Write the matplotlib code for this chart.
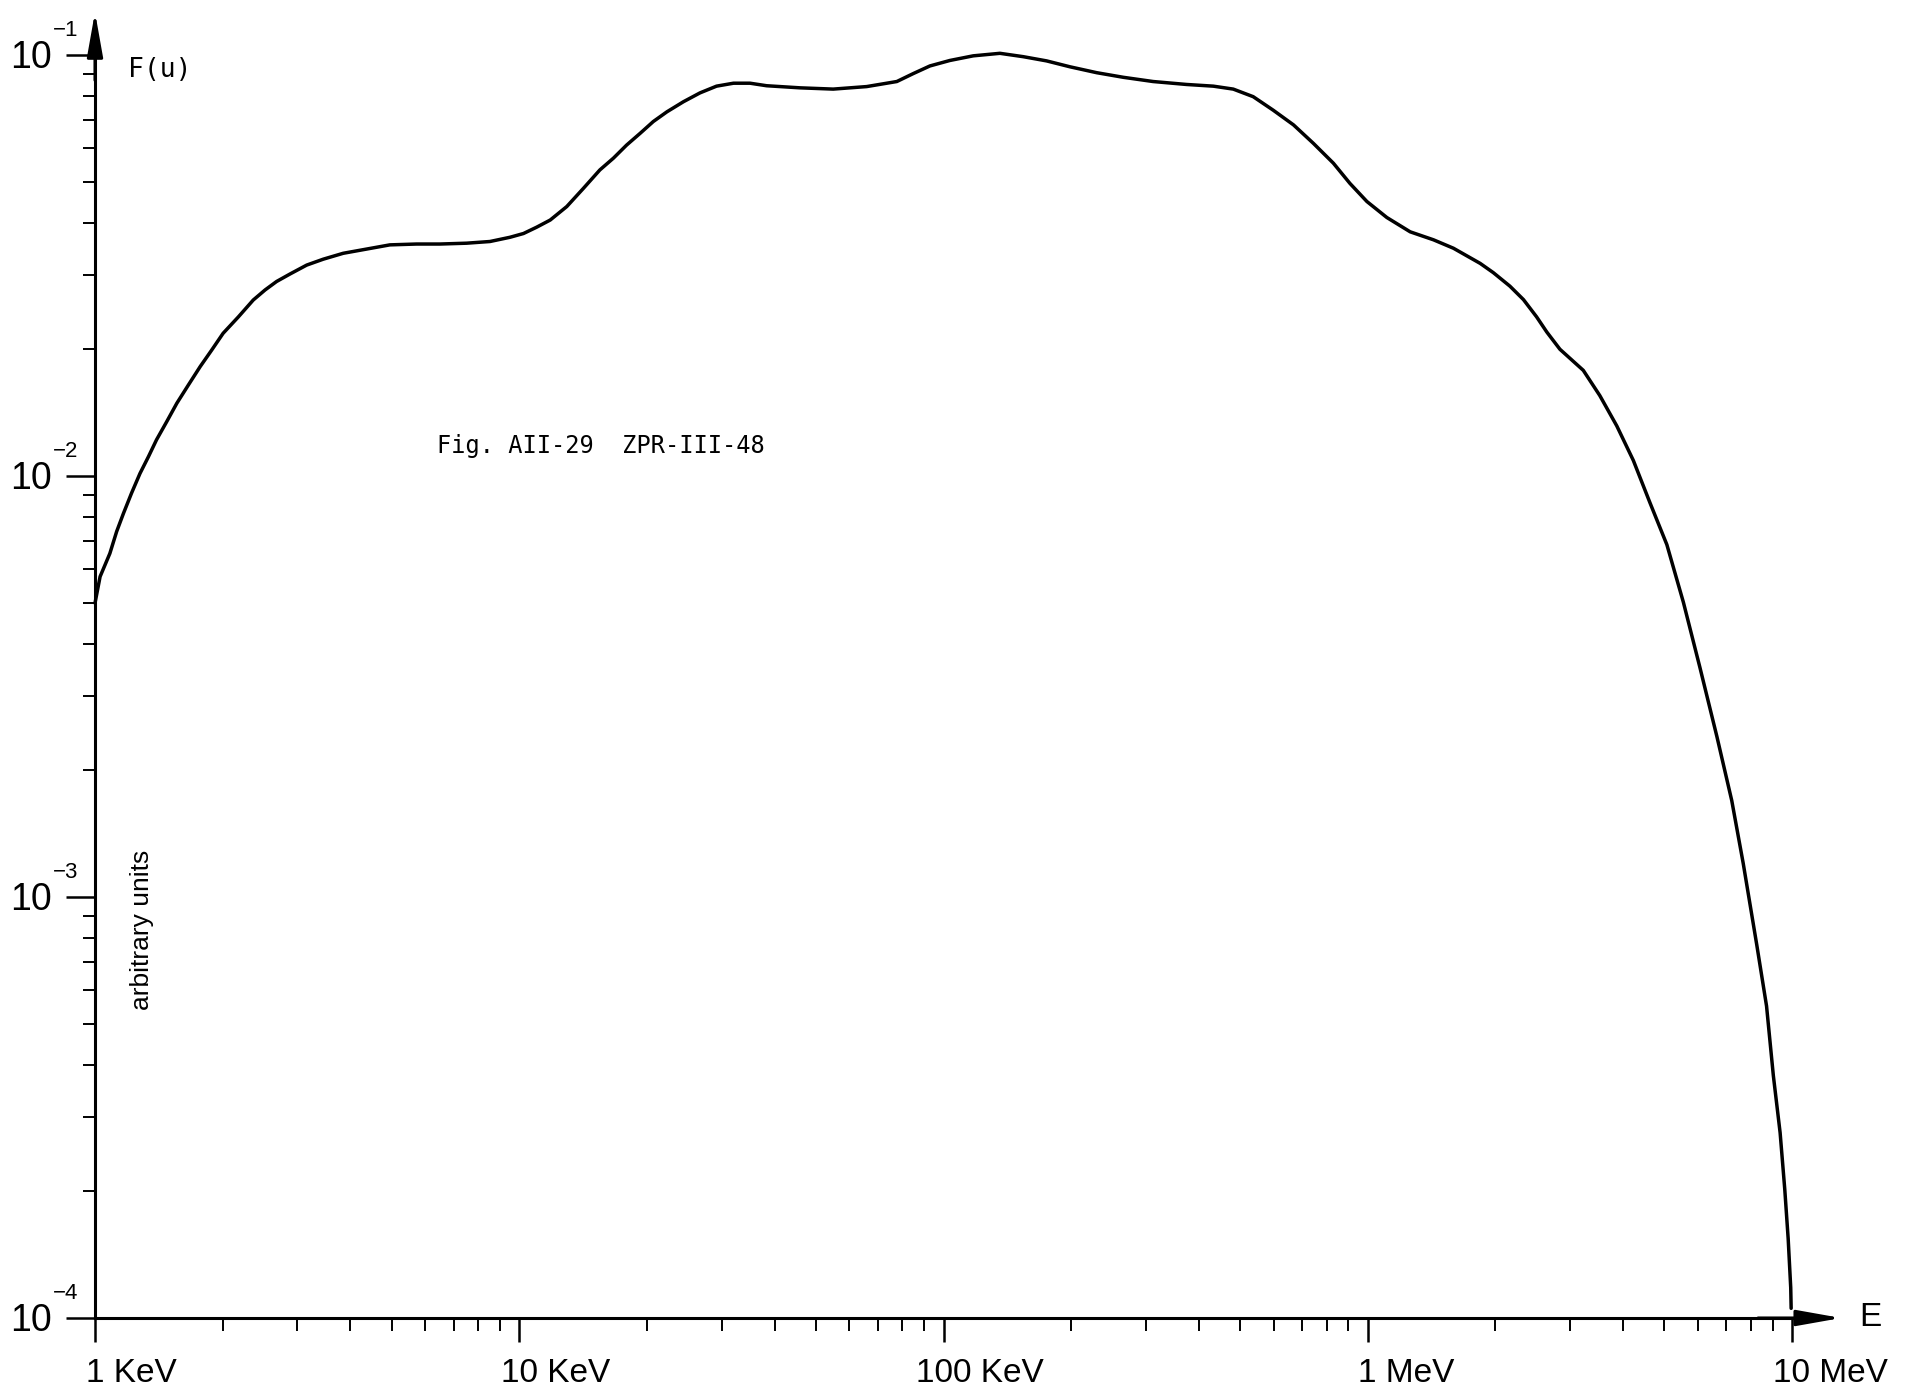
import numpy as np
import matplotlib
matplotlib.use('Agg')
import matplotlib.pyplot as plt
import matplotlib.transforms as mtransforms
from matplotlib.ticker import LogLocator, NullFormatter

# spectrum: log10(E / keV) and log10 F(u)
log_e = [0.000, 0.012, 0.035, 0.051, 0.067, 0.086, 0.106, 0.126, 0.145, 0.169,
         0.193, 0.220, 0.248, 0.275, 0.302, 0.338, 0.373, 0.401, 0.428, 0.460,
         0.499, 0.538, 0.585, 0.640, 0.695, 0.758, 0.813, 0.876, 0.931, 0.978,
         1.010, 1.041, 1.073, 1.112, 1.151, 1.190, 1.222, 1.253, 1.285, 1.316,
         1.348, 1.387, 1.426, 1.465, 1.505, 1.544, 1.583, 1.662, 1.740, 1.819,
         1.890, 1.929, 1.968, 2.015, 2.070, 2.133, 2.188, 2.243, 2.298, 2.361,
         2.424, 2.494, 2.573, 2.636, 2.683, 2.730, 2.777, 2.825, 2.872, 2.919,
         2.958, 2.998, 3.045, 3.100, 3.155, 3.202, 3.265, 3.296, 3.335, 3.367,
         3.398, 3.422, 3.453, 3.508, 3.547, 3.587, 3.626, 3.665, 3.705, 3.744,
         3.783, 3.823, 3.858, 3.885, 3.917, 3.940, 3.956, 3.972, 3.983, 3.991,
         3.997, 3.998]
log_f = [-2.302, -2.239, -2.184, -2.132, -2.089, -2.041, -1.994, -1.954, -1.914, -1.871,
         -1.827, -1.784, -1.740, -1.701, -1.661, -1.622, -1.582, -1.558, -1.538, -1.520,
         -1.499, -1.485, -1.471, -1.461, -1.451, -1.449, -1.449, -1.447, -1.443, -1.433,
         -1.424, -1.409, -1.392, -1.360, -1.317, -1.273, -1.245, -1.214, -1.186, -1.158,
         -1.135, -1.111, -1.090, -1.074, -1.067, -1.067, -1.073, -1.078, -1.081, -1.075,
         -1.063, -1.044, -1.026, -1.013, -1.002, -0.996, -1.004, -1.014, -1.028, -1.042,
         -1.053, -1.063, -1.070, -1.074, -1.081, -1.099, -1.131, -1.166, -1.210, -1.257,
         -1.305, -1.348, -1.386, -1.420, -1.439, -1.459, -1.495, -1.517, -1.549, -1.581,
         -1.622, -1.658, -1.699, -1.749, -1.809, -1.881, -1.963, -2.063, -2.163, -2.300,
         -2.455, -2.619, -2.771, -2.920, -3.114, -3.259, -3.424, -3.560, -3.695, -3.812,
         -3.928, -3.977]

x_ticks = [1, 10, 100, 1000, 10000]
x_labels = ['1 KeV', '10 KeV', '100 KeV', '1 MeV', '10 MeV']
y_ticks = [1e-4, 1e-3, 1e-2, 1e-1]
y_exponents = ['\u22124', '\u22123', '\u22122', '\u22121']

energy_kev = 10 ** np.array(log_e)
flux = 10 ** np.array(log_f)

W, H = 1905, 1395
fig = plt.figure(figsize=(W / 100, H / 100), dpi=100)
ax = fig.add_axes([95 / W, 77 / H, 1697 / W, 1263 / H])
ax.set_xscale('log')
ax.set_yscale('log')
ax.set_xlim(1, 1e4)
ax.set_ylim(1e-4, 1e-1)

ax.plot(energy_kev, flux, color='k', lw=2.5, solid_joinstyle='round',
        solid_capstyle='round', clip_on=False)

for s in ['top', 'right']:
    ax.spines[s].set_visible(False)
for s in ['left', 'bottom']:
    ax.spines[s].set_linewidth(2.2)

ax.set_xticks(x_ticks)
ax.set_yticks(y_ticks)
ax.xaxis.set_minor_locator(LogLocator(base=10, subs=range(2, 10), numticks=50))
ax.yaxis.set_minor_locator(LogLocator(base=10, subs=range(2, 10), numticks=50))
ax.xaxis.set_minor_formatter(NullFormatter())
ax.yaxis.set_minor_formatter(NullFormatter())
ax.tick_params(which='major', direction='out', width=1.8, labelbottom=False, labelleft=False)
ax.tick_params(axis='x', which='major', length=17)
ax.tick_params(axis='y', which='major', length=21)
ax.tick_params(which='minor', direction='out', length=9, width=1.4)

# axis arrows
arrow = dict(arrowstyle='-|>,head_length=0.9,head_width=0.16', mutation_scale=30,
             lw=2.2, color='k', shrinkA=0, shrinkB=0)
ax.annotate('', xy=(0, 1.034), xytext=(0, 0.98), xycoords='axes fraction', arrowprops=arrow)
ax.annotate('', xy=(1.029, 0), xytext=(0.98, 0), xycoords='axes fraction', arrowprops=arrow)

# x labels, number centred under the tick
fs_x = 24
trans_x = mtransforms.blended_transform_factory(ax.transData, ax.transAxes)
for val, lab in zip(x_ticks, x_labels):
    num = lab.split()[0]
    shift = -0.5 * len(num) * 0.556 * fs_x * 100 / 72
    t = mtransforms.offset_copy(trans_x, fig=fig, x=shift, y=-55, units='dots')
    ax.text(val, 0, lab, transform=t, ha='left', va='center', fontsize=fs_x,
            family='Liberation Sans')

# y labels: "10" centred on the tick, exponent raised above it
trans_y = mtransforms.blended_transform_factory(fig.transFigure, ax.transData)
for val, ex in zip(y_ticks, y_exponents):
    t_base = mtransforms.offset_copy(trans_y, fig=fig, x=0, y=-13, units='dots')
    ax.text(10 / W, val, '10', transform=t_base, ha='left', va='baseline',
            fontsize=27, family='Liberation Sans')
    t_exp = mtransforms.offset_copy(trans_y, fig=fig, x=0, y=19, units='dots')
    ax.text(53 / W, val, ex, transform=t_exp, ha='left', va='baseline',
            fontsize=16, family='Liberation Sans')

fig.text(128 / W, 1 - 70 / H, 'F(u)', family='DejaVu Sans Mono', fontsize=19, va='center', ha='left')
fig.text(437 / W, 1 - 446 / H, 'Fig. AII-29  ZPR-III-48', family='DejaVu Sans Mono',
         fontsize=17, va='center', ha='left')
fig.text(142 / W, 1 - 930 / H, 'arbitrary units', family='Liberation Sans', fontsize=19,
         rotation=90, va='center', ha='center')
fig.text(1859 / W, 1 - 1318 / H, 'E', family='Liberation Sans', fontsize=24, va='center', ha='left')

fig.savefig('out.png', dpi=100, facecolor='white')
